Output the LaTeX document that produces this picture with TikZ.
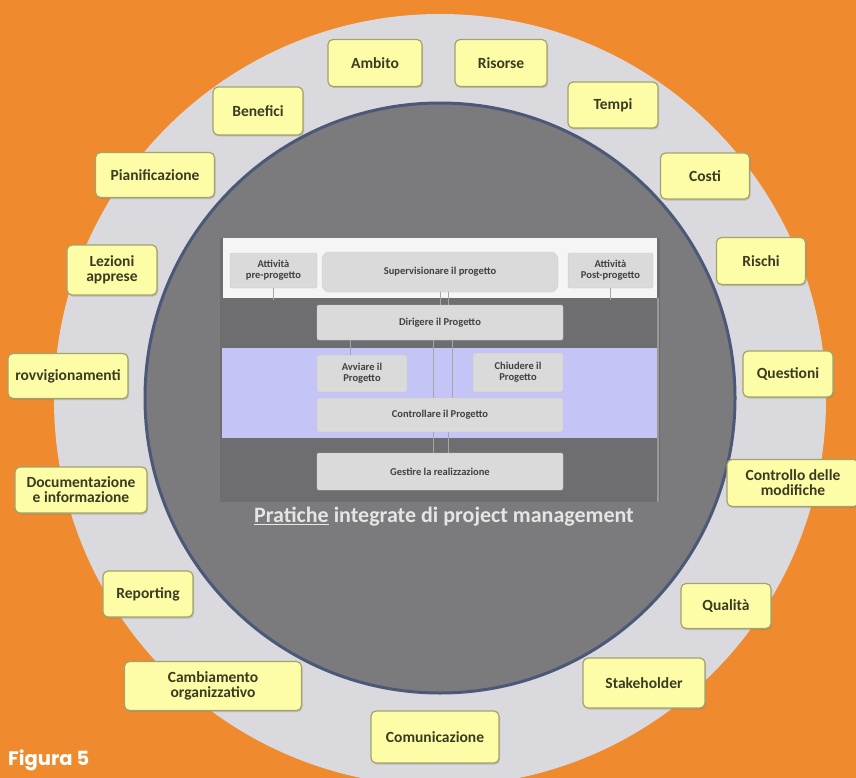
\documentclass[tikz,border=0pt]{standalone}
\usepackage{fontspec}
\setmainfont{Carlito}
\newfontfamily\figfont{Poppins}
\usetikzlibrary{calc,shadows,positioning}

\definecolor{bgorange}{HTML}{EF8A2E}
\definecolor{ringgray}{HTML}{D9D9DE}
\definecolor{coregray}{HTML}{7B7B7D}
\definecolor{coreedge}{HTML}{4C5878}
\definecolor{notefill}{HTML}{FDFDA8}
\definecolor{noteedge}{HTML}{A3A36A}
\definecolor{notetext}{HTML}{3B3B22}
\definecolor{panelgray}{HTML}{6E6E70}
\definecolor{bandlilac}{HTML}{C5C4F7}
\definecolor{phasefill}{HTML}{DADADA}

\tikzset{
  topicbox/.style={draw=noteedge, fill=notefill, line width=1.2pt,
    rounded corners=5pt, minimum height=46pt, align=center, inner sep=2pt,
    font=\bfseries\fontsize{15.5}{15}\selectfont, text=notetext,
    drop shadow={shadow xshift=1pt, shadow yshift=-1.5pt, opacity=.35}},
  phasebox/.style={draw=black!22, fill=phasefill, rounded corners=2pt,
    align=center, inner sep=1pt, text=black!75,
    font=\bfseries\fontsize{10.5}{11}\selectfont},
  link/.style={draw=black!35, line width=0.6pt}
}

\begin{document}
\begin{tikzpicture}[x=1pt,y=-1pt]
  \useasboundingbox (0,0) rectangle (856,778);
  \clip (0,0) rectangle (856,778);
  \fill[bgorange] (0,0) rectangle (856,778);

  % rings
  \fill[ringgray] (440,400) circle[radius=386];
  \draw[coreedge, line width=3pt, fill=coregray] (440,398) circle[radius=295];

  % panel
  \fill[panelgray] (220,238) rectangle (660,502);
  \fill[white!96!black] (223,238) rectangle (657,298);
  \fill[bandlilac] (222,348) rectangle (657,438);
  \draw[black!40, line width=1.5pt] (658,298) -- (658,502);
  \coordinate (bandedge) at (0,300);

  \node[phasebox, minimum width=87pt, minimum height=35pt] (pre) at (273.5,270.5) {Attività\\pre-progetto};
  \node[phasebox, minimum width=236pt, minimum height=40pt, rounded corners=8pt] (super) at (440,272) {Supervisionare il progetto};
  \node[phasebox, minimum width=85pt, minimum height=35pt] (post) at (610.5,270.5) {Attività\\Post-progetto};
  \node[phasebox, minimum width=246pt, minimum height=35pt] (dirigere) at (440,322.5) {Dirigere il Progetto};
  \node[phasebox, minimum width=90pt, minimum height=37pt] (avviare) at (362,373.5) {Avviare il\\Progetto};
  \node[phasebox, minimum width=90pt, minimum height=39pt] (chiudere) at (518,372.5) {Chiudere il\\Progetto};
  \node[phasebox, minimum width=246pt, minimum height=34pt] (controllare) at (440,415) {Controllare il Progetto};
  \node[phasebox, minimum width=246pt, minimum height=37pt] (gestire) at (440,471.5) {Gestire la realizzazione};

  \draw[link] (pre.south) -- (pre.south |- bandedge);
  \draw[link] (post.south) -- (post.south |- bandedge);
  \draw[link] (super.south) -- (dirigere.north);
  \draw[link] ([xshift=8pt]super.south) -- ([xshift=8pt]dirigere.north);
  \draw[link] ([xshift=-90pt]dirigere.south) -- ([xshift=-12pt]avviare.north);
  \draw[link] ([xshift=-7pt]dirigere.south) -- ([xshift=-7pt]controllare.north);
  \draw[link] ([xshift=12pt]dirigere.south) -- ([xshift=12pt]controllare.north);
  \draw[link] ([xshift=-7pt]controllare.south) -- ([xshift=-7pt]gestire.north);
  \draw[link] ([xshift=8pt]controllare.south) -- ([xshift=8pt]gestire.north);

  \node[text=white!90!black, font=\bfseries\fontsize{22}{22}\selectfont] (pratiche) at (444,517) {\underline{Pratiche} integrate di project management};

  % topics round the ring
  \node[topicbox, minimum width=94pt, minimum height=47pt] (ambito) at (375,63) {Ambito};
  \node[topicbox, minimum width=92pt, minimum height=47pt] (risorse) at (501,63) {Risorse};
  \node[topicbox, minimum width=90pt] (tempi) at (613,105) {Tempi};
  \node[topicbox, minimum width=89pt] (costi) at (705,176) {Costi};
  \node[topicbox, minimum width=89pt, minimum height=47pt] (rischi) at (761,261) {Rischi};
  \node[topicbox, minimum width=90pt] (questioni) at (788,374) {Questioni};
  \node[topicbox, minimum width=132pt, minimum height=47pt] (controllo) at (793,483) {Controllo delle\\modifiche};
  \node[topicbox, minimum width=90pt, minimum height=45pt] (qualita) at (726,606) {Qualità};
  \node[topicbox, minimum width=122pt, minimum height=50pt] (stakeholder) at (644,683) {Stakeholder};
  \node[topicbox, minimum width=128pt, minimum height=52pt] (comunicazione) at (435,737) {Comunicazione};
  \node[topicbox, minimum width=177pt, minimum height=49pt] (cambiamento) at (213,686) {Cambiamento\\organizzativo};
  \node[topicbox, minimum width=90pt] (reporting) at (148,594) {Reporting};
  \node[topicbox, minimum width=132pt] (documentazione) at (81,490) {Documentazione\\e informazione};
  \node[topicbox, minimum width=120pt, minimum height=45pt] (approvvigionamenti) at (68,376) {rovvigionamenti};
  \node[topicbox, minimum width=90pt, minimum height=50pt] (lezioni) at (112,270) {Lezioni\\apprese};
  \node[topicbox, minimum width=119pt, minimum height=45pt] (pianificazione) at (155,175) {Pianificazione};
  \node[topicbox, minimum width=90pt, minimum height=48pt] (benefici) at (258,111) {Benefici};

  \node[anchor=base west, text=white, font=\figfont\bfseries\fontsize{19.5}{19.5}\selectfont, inner sep=0pt] (figura) at (8,765) {Figura 5};
\end{tikzpicture}
\end{document}
